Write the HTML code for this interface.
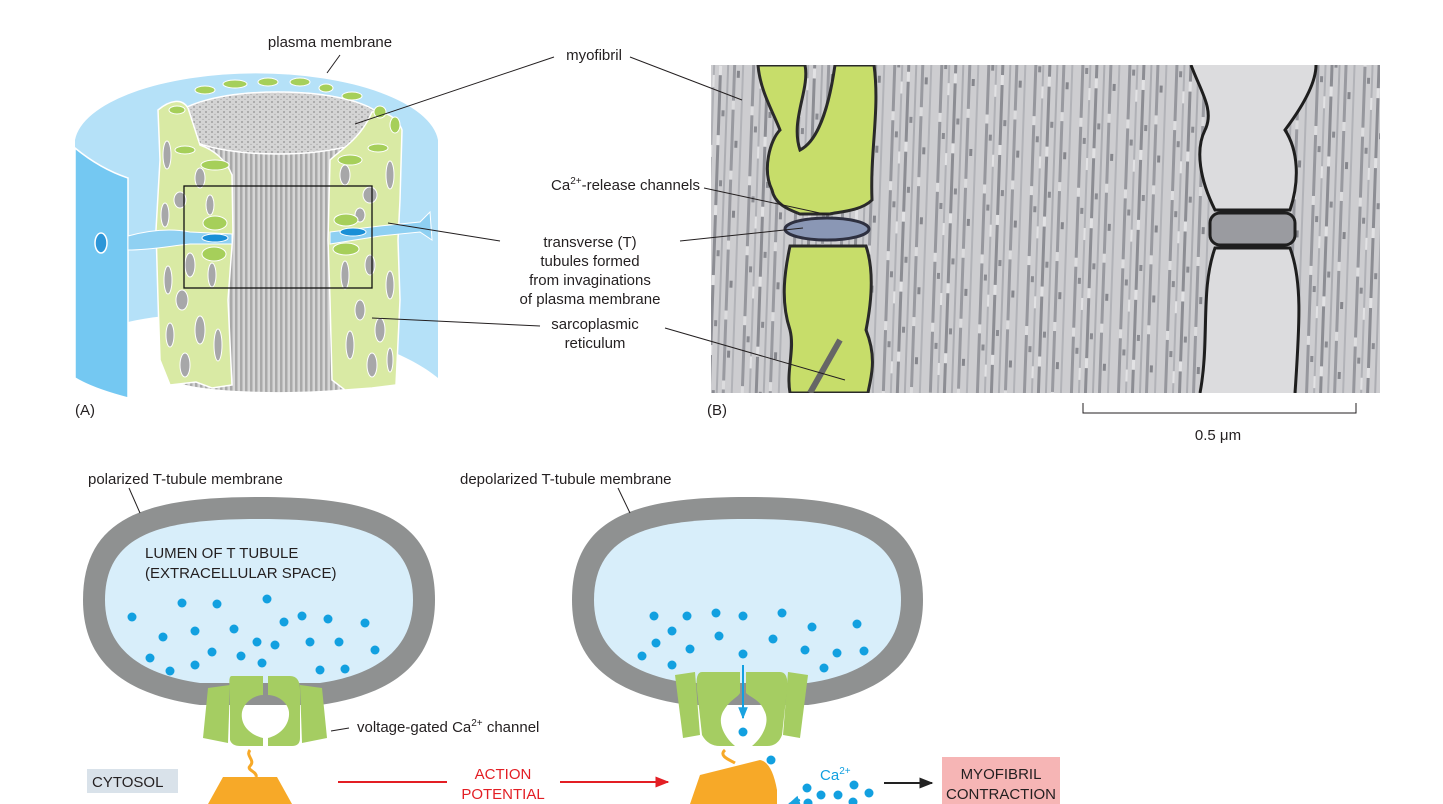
<!DOCTYPE html>
<html><head><meta charset="utf-8"><style>
html,body{margin:0;padding:0;background:#fff}
svg{display:block;font-family:"Liberation Sans",sans-serif}
</style></head><body>
<svg width="1443" height="804" viewBox="0 0 1443 804" xmlns="http://www.w3.org/2000/svg">
<defs>
<pattern id="stripes" width="5" height="10" patternUnits="userSpaceOnUse"><rect width="5" height="10" fill="#d6d6d6"/><rect width="2.5" height="10" fill="#a9a9a9"/></pattern>
<pattern id="dots" width="6" height="5" patternUnits="userSpaceOnUse"><rect width="6" height="5" fill="#d4d4d4"/><circle cx="2" cy="2" r="1" fill="#a0a0a0"/><circle cx="5" cy="4.5" r="0.8" fill="#b0b0b0"/></pattern>
<pattern id="em" width="47" height="70" patternUnits="userSpaceOnUse" patternTransform="rotate(2)">
<rect width="47" height="70" fill="#cdcdd0"/>
<rect x="2" width="3" height="70" fill="#96979d"/><rect x="10" width="2" height="70" fill="#b0b1b6"/>
<rect x="16" width="3" height="70" fill="#8c8d93"/><rect x="24" width="2" height="70" fill="#acadb2"/>
<rect x="30" width="3" height="70" fill="#999aa0"/><rect x="39" width="2" height="70" fill="#b2b3b8"/>
<rect x="2" y="10" width="3" height="9" fill="#dedee0"/><rect x="16" y="40" width="3" height="10" fill="#e2e2e4"/><rect x="30" y="5" width="3" height="9" fill="#dcdcde"/><rect x="10" y="50" width="2" height="12" fill="#e2e2e4"/>
<rect x="6" y="30" width="3" height="6" fill="#8a8b91"/><rect x="34" y="45" width="3" height="7" fill="#85868c"/><rect x="20" y="15" width="3" height="6" fill="#8a8b91"/>
</pattern>
<clipPath id="emclip"><rect x="711" y="65" width="669" height="328"/></clipPath>
<marker id="ar" viewBox="0 0 10 10" refX="9" refY="5" markerWidth="7" markerHeight="7" orient="auto"><path d="M0,1 L10,5 L0,9 Z" fill="#e31e24"/></marker>
<marker id="ak" viewBox="0 0 10 10" refX="9" refY="5" markerWidth="7" markerHeight="7" orient="auto"><path d="M0,1 L10,5 L0,9 Z" fill="#222"/></marker>
<marker id="ab" viewBox="0 0 10 10" refX="9" refY="5" markerWidth="6" markerHeight="6" orient="auto"><path d="M0,1 L10,5 L0,9 Z" fill="#1aa3e0"/></marker>
</defs>

<!-- Panel A -->
<path d="M75,140 A182,72 0 0 1 438,140 L438,378 C380,330 220,300 128,322 L75,340 Z" fill="#b5e1f8"/>
<path d="M75,148 C92,162 110,172 128,178 L128,398 C105,392 88,386 75,378 Z" fill="#74c8f2" stroke="#fff" stroke-width="1.5"/>
<ellipse cx="101" cy="243" rx="6" ry="10" fill="#2c96d8" stroke="#fff" stroke-width="1.5"/>
<path d="M172,123 L172,378 A106,14 0 0 0 385,378 L385,123 Z" fill="url(#stripes)"/>
<ellipse cx="278" cy="123" rx="106" ry="31" fill="url(#dots)" stroke="#fff" stroke-width="1.5"/>
<path d="M158,110 C170,100 182,98 188,108 L200,145 C214,150 226,160 232,175 L233,232 L228,300 L232,385 L212,388 L196,382 L170,385 L160,360 L158,300 L156,230 L160,160 Z" fill="#d9eaa4" stroke="#fff" stroke-width="1.5"/>
<path d="M330,160 C340,150 360,140 372,112 C385,110 398,118 402,130 L400,200 L398,240 L400,300 L396,385 L372,388 L345,390 L332,380 L330,300 L328,240 Z" fill="#d9eaa4" stroke="#fff" stroke-width="1.5"/>
<g fill="#a7a7a9" stroke="#fff" stroke-width="1">
<ellipse cx="167" cy="155" rx="4" ry="14"/><ellipse cx="200" cy="178" rx="5" ry="10"/><ellipse cx="180" cy="200" rx="6" ry="8"/><ellipse cx="210" cy="205" rx="4" ry="10"/>
<ellipse cx="165" cy="215" rx="4" ry="12"/><ellipse cx="190" cy="265" rx="5" ry="12"/><ellipse cx="168" cy="280" rx="4" ry="14"/><ellipse cx="212" cy="275" rx="4" ry="12"/>
<ellipse cx="182" cy="300" rx="6" ry="10"/><ellipse cx="200" cy="330" rx="5" ry="14"/><ellipse cx="170" cy="335" rx="4" ry="12"/><ellipse cx="218" cy="345" rx="4" ry="16"/><ellipse cx="185" cy="365" rx="5" ry="12"/>
<ellipse cx="345" cy="175" rx="5" ry="10"/><ellipse cx="370" cy="195" rx="7" ry="8"/><ellipse cx="390" cy="175" rx="4" ry="14"/><ellipse cx="360" cy="215" rx="5" ry="7"/>
<ellipse cx="345" cy="275" rx="4" ry="14"/><ellipse cx="370" cy="265" rx="5" ry="10"/><ellipse cx="390" cy="285" rx="4" ry="14"/><ellipse cx="360" cy="310" rx="5" ry="10"/>
<ellipse cx="380" cy="330" rx="5" ry="12"/><ellipse cx="350" cy="345" rx="4" ry="14"/><ellipse cx="372" cy="365" rx="5" ry="12"/><ellipse cx="390" cy="360" rx="3" ry="12"/>
</g>
<g fill="#a6cf5a" stroke="#fff" stroke-width="1">
<ellipse cx="177" cy="110" rx="8" ry="4"/><ellipse cx="205" cy="90" rx="10" ry="4"/><ellipse cx="235" cy="84" rx="12" ry="4"/><ellipse cx="268" cy="82" rx="10" ry="4"/><ellipse cx="300" cy="82" rx="10" ry="4"/><ellipse cx="326" cy="88" rx="7" ry="4"/><ellipse cx="352" cy="96" rx="10" ry="4"/><ellipse cx="380" cy="112" rx="6" ry="6"/><ellipse cx="395" cy="125" rx="5" ry="8"/>
<ellipse cx="185" cy="150" rx="10" ry="4"/><ellipse cx="215" cy="165" rx="14" ry="5"/><ellipse cx="350" cy="160" rx="12" ry="5"/><ellipse cx="378" cy="148" rx="10" ry="4"/>
<ellipse cx="215" cy="223" rx="12" ry="7"/><ellipse cx="214" cy="254" rx="12" ry="7"/><ellipse cx="346" cy="220" rx="12" ry="6"/><ellipse cx="346" cy="249" rx="13" ry="6"/>
</g>
<path d="M128,236 C150,230 170,228 190,232 L232,234 L232,244 L190,244 C170,246 150,250 128,250 Z" fill="#8fd0f2" stroke="#fff" stroke-width="1"/>
<path d="M330,232 L380,226 L420,222 L430,212 L432,240 L420,232 L380,236 L330,244 Z" fill="#8fd0f2" stroke="#fff" stroke-width="1"/>
<ellipse cx="215" cy="238" rx="13" ry="4" fill="#1a8fd6" stroke="#fff"/>
<ellipse cx="353" cy="232" rx="13" ry="4" fill="#1a8fd6" stroke="#fff"/>
<rect x="184" y="186" width="188" height="102" fill="none" stroke="#111" stroke-width="1.3"/>

<!-- Micrograph -->
<g clip-path="url(#emclip)">
<rect x="711" y="65" width="669" height="328" fill="url(#em)"/>
<path d="M758,65 L805,65 C810,90 790,120 800,150 C820,140 830,100 835,65 L874,65 C880,110 870,150 872,200 C860,212 835,212 830,214 L800,214 C790,210 775,205 772,190 C762,170 770,140 780,130 C772,110 760,90 758,65 Z" fill="#c7dd6a" stroke="#2a2a2a" stroke-width="3"/>
<path d="M790,246 L866,246 C874,270 872,300 866,330 C878,360 870,380 868,393 L790,393 C786,370 795,350 790,330 C780,300 785,270 790,246 Z" fill="#c7dd6a" stroke="#2a2a2a" stroke-width="3"/>
<path d="M810,393 L840,340" stroke="#666" stroke-width="6"/>
<ellipse cx="827" cy="229" rx="42" ry="11" fill="#8a97b5" stroke="#2e3040" stroke-width="3"/>
<path d="M1191,65 C1200,90 1215,110 1205,130 C1195,150 1200,180 1215,210 L1290,210 C1300,180 1298,150 1285,130 C1300,110 1316,85 1316,65" fill="#dcdcde" stroke="#1e1e1e" stroke-width="3"/>
<rect x="1210" y="213" width="85" height="32" rx="10" fill="#9a9ba0" stroke="#1e1e1e" stroke-width="3"/>
<path d="M1200,393 C1210,340 1200,290 1215,248 L1290,248 C1302,280 1300,320 1295,393" fill="#dcdcde" stroke="#1e1e1e" stroke-width="3"/>
</g>

<g font-size="15" fill="#231f20">
<text x="330" y="47" text-anchor="middle">plasma membrane</text>
<text x="594" y="60" text-anchor="middle">myofibril</text>
<text x="700" y="190" text-anchor="end">Ca<tspan font-size="10" dy="-6">2+</tspan><tspan dy="6">-release channels</tspan></text>
<text x="590" y="247" text-anchor="middle">transverse (T)</text>
<text x="590" y="266" text-anchor="middle">tubules formed</text>
<text x="590" y="285" text-anchor="middle">from invaginations</text>
<text x="590" y="304" text-anchor="middle">of plasma membrane</text>
<text x="595" y="329" text-anchor="middle">sarcoplasmic</text>
<text x="595" y="348" text-anchor="middle">reticulum</text>
<text x="75" y="415">(A)</text>
<text x="707" y="415">(B)</text>
<text x="1218" y="440" text-anchor="middle">0.5 μm</text>
</g>
<g stroke="#231f20" stroke-width="1" fill="none">
<path d="M340,55 L327,73"/>
<path d="M554,57 L355,124"/>
<path d="M630,57 L742,100"/>
<path d="M704,188 L829,215"/>
<path d="M500,241 L388,223"/>
<path d="M680,241 L803,228"/>
<path d="M540,326 L372,318"/>
<path d="M665,328 L845,380"/>
<path d="M1083,403 L1083,413 L1356,413 L1356,403"/>
</g>

<!-- Bottom tubules -->
<path d="M83,600 C83,515 150,497 259,497 C368,497 435,515 435,600 C435,665 390,695 320,705 L200,705 C128,695 83,665 83,600 Z" fill="#8f9191"/>
<path d="M105,600 C105,532 165,519 259,519 C353,519 413,532 413,600 C413,650 375,675 320,683 L200,683 C143,675 105,650 105,600 Z" fill="#d8eefa"/>
<path d="M572,600 C572,515 639,497 747,497 C856,497 923,515 923,600 C923,665 878,695 808,705 L688,705 C616,695 572,665 572,600 Z" fill="#8f9191"/>
<path d="M594,600 C594,532 654,519 747,519 C841,519 901,532 901,600 C901,650 863,675 808,683 L688,683 C631,675 594,650 594,600 Z" fill="#d8eefa"/>

<g fill="#a5cd62">
<path d="M208,688 L230,685 L228,743 L203,738 Z"/>
<path d="M300,685 L322,688 L327,738 L302,743 Z"/>
<path d="M232,676 Q228,675 230,690 L230,740 Q232,746 240,746 L263,746 L263,738 C250,735 240,725 242,712 C244,702 255,695 263,695 L263,676 Z"/>
<path d="M268,676 L268,695 C277,695 288,702 289,712 C290,725 280,735 268,738 L268,746 L292,746 Q300,746 300,738 L300,690 Q300,676 290,676 Z"/>
</g>
<path d="M250,750 C245,756 256,760 250,766 C246,770 258,772 256,777" stroke="#f7a928" stroke-width="3" fill="none"/>
<path d="M223,777 L277,777 L292,804 L208,804 Z" fill="#f7a928"/>
<g fill="#a5cd62">
<path d="M675,675 L695,672 L700,735 L683,738 Z"/>
<path d="M788,672 L808,675 L800,738 L783,735 Z"/>
<path d="M702,672 Q695,672 697,690 L702,735 Q708,746 720,746 L735,746 C722,735 717,720 724,710 C730,700 738,697 740,693 L740,672 Z"/>
<path d="M746,672 L746,693 C750,697 760,700 764,710 C770,720 765,735 752,746 L767,746 Q778,746 782,735 L787,690 Q789,672 780,672 Z"/>
</g>
<path d="M725,750 C718,756 730,760 735,763" stroke="#f7a928" stroke-width="3" fill="none"/>
<path d="M700,775 L760,760 Q772,762 777,790 L777,804 L690,804 Z" fill="#f7a928"/>

<g fill="#12a0e0">
<circle cx="132" cy="617" r="4.5"/><circle cx="182" cy="603" r="4.5"/><circle cx="217" cy="604" r="4.5"/><circle cx="267" cy="599" r="4.5"/>
<circle cx="163" cy="637" r="4.5"/><circle cx="195" cy="631" r="4.5"/><circle cx="234" cy="629" r="4.5"/><circle cx="284" cy="622" r="4.5"/>
<circle cx="302" cy="616" r="4.5"/><circle cx="328" cy="619" r="4.5"/><circle cx="365" cy="623" r="4.5"/><circle cx="150" cy="658" r="4.5"/>
<circle cx="170" cy="671" r="4.5"/><circle cx="195" cy="665" r="4.5"/><circle cx="212" cy="652" r="4.5"/><circle cx="241" cy="656" r="4.5"/>
<circle cx="257" cy="642" r="4.5"/><circle cx="275" cy="645" r="4.5"/><circle cx="262" cy="663" r="4.5"/><circle cx="310" cy="642" r="4.5"/>
<circle cx="339" cy="642" r="4.5"/><circle cx="375" cy="650" r="4.5"/><circle cx="320" cy="670" r="4.5"/><circle cx="345" cy="669" r="4.5"/>
<circle cx="654" cy="616" r="4.5"/><circle cx="687" cy="616" r="4.5"/><circle cx="716" cy="613" r="4.5"/><circle cx="743" cy="616" r="4.5"/>
<circle cx="782" cy="613" r="4.5"/><circle cx="672" cy="631" r="4.5"/><circle cx="719" cy="636" r="4.5"/><circle cx="773" cy="639" r="4.5"/>
<circle cx="812" cy="627" r="4.5"/><circle cx="857" cy="624" r="4.5"/><circle cx="656" cy="643" r="4.5"/><circle cx="690" cy="649" r="4.5"/>
<circle cx="642" cy="656" r="4.5"/><circle cx="743" cy="654" r="4.5"/><circle cx="805" cy="650" r="4.5"/><circle cx="837" cy="653" r="4.5"/>
<circle cx="864" cy="651" r="4.5"/><circle cx="672" cy="665" r="4.5"/><circle cx="824" cy="668" r="4.5"/><circle cx="743" cy="732" r="4.5"/>
<circle cx="771" cy="760" r="4.5"/>
<circle cx="807" cy="788" r="4.5"/><circle cx="821" cy="795" r="4.5"/><circle cx="838" cy="795" r="4.5"/><circle cx="854" cy="785" r="4.5"/>
<circle cx="869" cy="793" r="4.5"/><circle cx="853" cy="802" r="4.5"/><circle cx="808" cy="803" r="4.5"/>
</g>
<path d="M743,665 L743,718" stroke="#12a0e0" stroke-width="2" marker-end="url(#ab)"/>
<path d="M800,800 L789,804" stroke="#12a0e0" stroke-width="2" marker-end="url(#ab)"/>

<rect x="87" y="769" width="91" height="24" fill="#d9e2ea"/>
<g font-size="15" fill="#231f20">
<text x="88" y="484">polarized T-tubule membrane</text>
<text x="460" y="484">depolarized T-tubule membrane</text>
<text x="145" y="558">LUMEN OF T TUBULE</text>
<text x="145" y="578">(EXTRACELLULAR SPACE)</text>
<text x="357" y="732">voltage-gated Ca<tspan font-size="10" dy="-6">2+</tspan><tspan dy="6"> channel</tspan></text>
<text x="92" y="787">CYTOSOL</text>
</g>
<g stroke="#231f20" stroke-width="1" fill="none">
<path d="M129,488 L140,513"/>
<path d="M618,488 L630,513"/>
<path d="M331,731 L349,728"/>
</g>
<g font-size="15" fill="#e31e24" text-anchor="middle">
<text x="503" y="779">ACTION</text>
<text x="503" y="799">POTENTIAL</text>
</g>
<path d="M338,782 L447,782" stroke="#e31e24" stroke-width="2"/>
<path d="M560,782 L668,782" stroke="#e31e24" stroke-width="2" marker-end="url(#ar)"/>
<text x="820" y="780" font-size="15" fill="#12a0e0">Ca<tspan font-size="10" dy="-6">2+</tspan></text>
<path d="M884,783 L932,783" stroke="#222" stroke-width="2" marker-end="url(#ak)"/>
<rect x="942" y="757" width="118" height="47" fill="#f6b5b5"/>
<g font-size="15" fill="#231f20" text-anchor="middle">
<text x="1001" y="779">MYOFIBRIL</text>
<text x="1001" y="799">CONTRACTION</text>
</g>
</svg>
</body></html>
